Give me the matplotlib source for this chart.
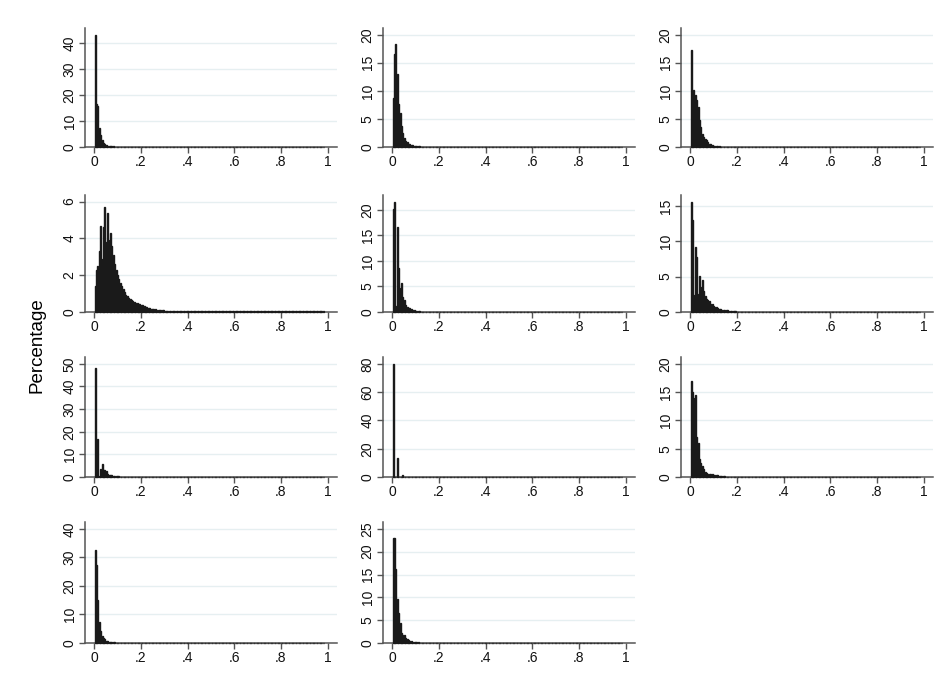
import numpy as np
import matplotlib.pyplot as plt

plt.rcParams['font.family'] = ['Liberation Sans', 'DejaVu Sans']

# histogram bins: width 0.006 over [0, 1]
BIN_W = 0.006
N_BINS = 164
TAIL = 0.05

p1 = [43.2, 16.4, 15.6, 7.2, 4.7, 2.7, 1.7, 1.2, 0.8, 0.5, 0.4, 0.3, 0.25, 0.2, 0.15, 0.12, 0.1, 0.08]
p2 = [8.8, 16.6, 18.4, 13.0, 7.7, 6.1, 3.7, 2.5, 1.6, 1.1, 0.85, 0.6, 0.45, 0.35, 0.3, 0.25, 0.2,
      0.15, 0.12, 0.1, 0.08]
p3 = [17.3, 9.5, 10.1, 9.2, 8.4, 7.1, 4.8, 3.6, 2.4, 1.7, 1.5, 1.2, 0.9, 0.6, 0.5, 0.35, 0.25,
      0.2, 0.15, 0.12, 0.1, 0.08]
p4 = [1.4, 2.3, 2.5, 3.3, 4.7, 2.9, 4.6, 5.7, 3.8, 5.4, 3.9, 4.3, 3.6, 3.1,
      2.6, 2.3, 2.0, 1.8, 1.6, 1.4, 1.25, 1.1, 0.95, 0.85, 0.75, 0.7, 0.65, 0.6,
      0.55, 0.5, 0.48, 0.45, 0.42, 0.4, 0.36, 0.32, 0.28, 0.25, 0.22, 0.2, 0.18, 0.16,
      0.15, 0.14, 0.13, 0.12, 0.11, 0.1, 0.09, 0.09, 0.08, 0.07, 0.07, 0.06, 0.06, 0.05]
p5 = [20.2, 21.6, 1.2, 16.6, 8.7, 4.6, 5.6, 3.0, 2.3, 1.4, 0.9, 0.85, 0.7, 0.6, 0.4, 0.3, 0.2,
      0.15, 0.12, 0.1, 0.08]
p6 = [15.6, 13.0, 2.4, 9.2, 7.8, 2.6, 5.1, 3.6, 4.5, 2.9, 2.2, 1.9, 1.7, 1.5, 1.2, 1.1, 0.9,
      0.75, 0.65, 0.5, 0.45, 0.4, 0.35, 0.3, 0.27, 0.25, 0.22, 0.2, 0.17, 0.15, 0.12, 0.1, 0.08]
p7 = [48.2, 0.0, 16.9, 0.3, 3.6, 5.6, 3.3, 3.0, 2.6, 1.2, 1.0, 0.8, 1.1, 0.5, 0.4, 0.3, 0.3,
      0.25, 0.2, 0.2, 0.15, 0.15, 0.1, 0.1, 0.08]
p8 = [80.0, 0.0, 0.0, 13.3, 0.0, 0.0, 0.0, 1.7, 0.2, 0.1, 0.1]
p9 = [16.9, 15.1, 14.0, 14.4, 7.0, 6.0, 3.1, 2.5, 2.0, 1.4, 0.9, 0.7, 0.6, 0.55, 0.5, 0.45,
      0.4, 0.35, 0.3, 0.28, 0.25, 0.2, 0.15, 0.12, 0.1, 0.08]
p10 = [32.6, 27.4, 14.9, 7.4, 4.1, 2.3, 1.9, 1.4, 0.8, 0.6, 0.45, 0.35, 0.3, 0.25, 0.2, 0.15,
       0.12, 0.1, 0.08]
p11 = [23.0, 22.9, 16.2, 9.7, 6.5, 4.4, 2.2, 1.8, 1.65, 1.2, 0.8, 0.6, 0.45, 0.35, 0.3, 0.25,
       0.2, 0.15, 0.12, 0.1, 0.08]

panels = [p1, p2, p3, p4, p5, p6, p7, p8, p9, p10, p11]
y_ticks = [
    [0, 10, 20, 30, 40],
    [0, 5, 10, 15, 20],
    [0, 5, 10, 15, 20],
    [0, 2, 4, 6],
    [0, 5, 10, 15, 20],
    [0, 5, 10, 15],
    [0, 10, 20, 30, 40, 50],
    [0, 20, 40, 60, 80],
    [0, 5, 10, 15, 20],
    [0, 10, 20, 30, 40],
    [0, 5, 10, 15, 20, 25],
]
x_ticks = [0, 0.2, 0.4, 0.6, 0.8, 1.0]
x_labels = ['0', '.2', '.4', '.6', '.8', '1']

W, H = 948, 692
fig = plt.figure(figsize=(W / 100, H / 100), dpi=100)

col_left = [85, 383, 681]
row_span = [(28, 147), (195, 312), (357, 477), (522, 643)]
ax_w = 252

edges = np.arange(N_BINS) * BIN_W

for i, head in enumerate(panels):
    r, c = divmod(i, 3)
    top, bot = row_span[r]
    ax = fig.add_axes([col_left[c] / W, 1 - bot / H, ax_w / W, (bot - top) / H])

    vals = np.array(head + [TAIL] * (N_BINS - len(head)))
    ax.bar(edges + BIN_W / 2, vals, width=BIN_W * 0.7, color='#111111',
           edgecolor='#1a1a1a', linewidth=1.0, zorder=3, clip_on=False)

    ticks = y_ticks[i]
    ax.set_xlim(-0.04, 1.04)
    ax.set_ylim(0, max(ticks[-1], max(head)) * 1.06)
    ax.set_yticks(ticks)
    ax.set_yticklabels([str(t) for t in ticks], rotation=90, va='center')
    ax.set_xticks(x_ticks)
    ax.set_xticklabels(x_labels)
    for t in ticks[1:]:
        ax.axhline(t, color='#e6eff1', linewidth=1, zorder=1)

    for s in ['top', 'right']:
        ax.spines[s].set_visible(False)
    for s in ['left', 'bottom']:
        ax.spines[s].set_color('#555555')
        ax.spines[s].set_linewidth(1.1)
    ax.tick_params(axis='both', colors='#555555', labelcolor='#111111',
                   labelsize=10, length=4, width=1, pad=2)

fig.text(37 / W, 1 - 345 / H, 'Percentage', rotation=90, ha='center', va='center',
         fontsize=13.5)

fig.savefig('out.png', dpi=100, facecolor='white')
